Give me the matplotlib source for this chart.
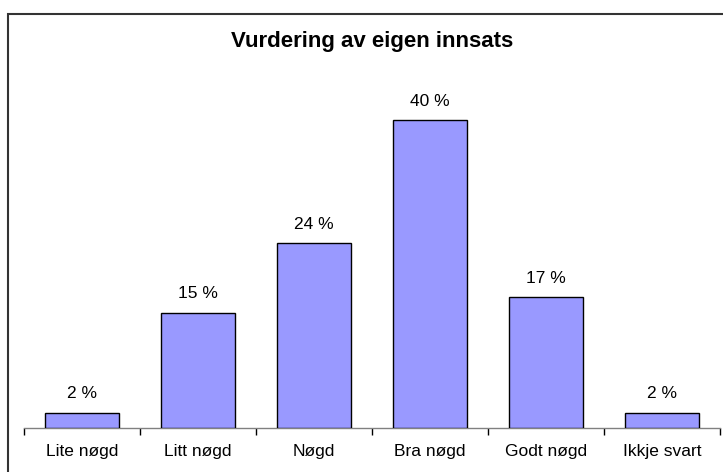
import numpy as np
import matplotlib.pyplot as plt
from matplotlib.patches import Rectangle

# data
categories = ['Lite nøgd', 'Litt nøgd', 'Nøgd', 'Bra nøgd', 'Godt nøgd', 'Ikkje svart']
values = [2, 15, 24, 40, 17, 2]

plt.rcParams['font.family'] = ['Liberation Sans', 'DejaVu Sans']

W, H = 723, 472
fig = plt.figure(figsize=(W / 100, H / 100), dpi=100)
# axes placed in pixel terms
left, right, bottom, top = 24, 720, 428, 81.5
ax = fig.add_axes([left / W, (H - bottom) / H, (right - left) / W, (bottom - top) / H])

x = np.arange(len(categories))
ax.bar(x, values, width=0.63, color='#9999FF', edgecolor='black', linewidth=1.0, zorder=3)

for xi, v in zip(x, values):
    ax.annotate(f'{v} %', (xi, v), xytext=(0, 8), textcoords='offset points',
                ha='center', va='bottom', fontsize=12.5)

ax.set_xlim(-0.5, len(categories) - 0.5)
ax.set_ylim(0, 45)

# ticks between categories, labels at centres
ax.set_xticks(np.arange(-0.5, len(categories), 1.0))
ax.set_xticklabels([])
ax.set_xticks(x, minor=True)
ax.set_xticklabels(categories, minor=True, fontsize=12.5)
ax.tick_params(axis='x', which='major', length=5, width=1, color='black', direction='out')
ax.tick_params(axis='x', which='minor', length=0, pad=11.5)
ax.set_yticks([])

for s in ['left', 'right', 'top']:
    ax.spines[s].set_visible(False)
ax.spines['bottom'].set_color('#808080')
ax.spines['bottom'].set_linewidth(1.0)

fig.text(372 / W, 1 - 41 / H, 'Vurdering av eigen innsats', ha='center', va='center',
         fontsize=16, fontweight='bold')

# chart border (cut off on right and bottom, as in the source)
fig.patches.append(Rectangle((8 / W, -0.05), 1.0, 1 - 14 / H + 0.05, transform=fig.transFigure,
                             fill=False, edgecolor='#333333', linewidth=1.5, clip_on=False))

fig.savefig('out.png', dpi=100)
